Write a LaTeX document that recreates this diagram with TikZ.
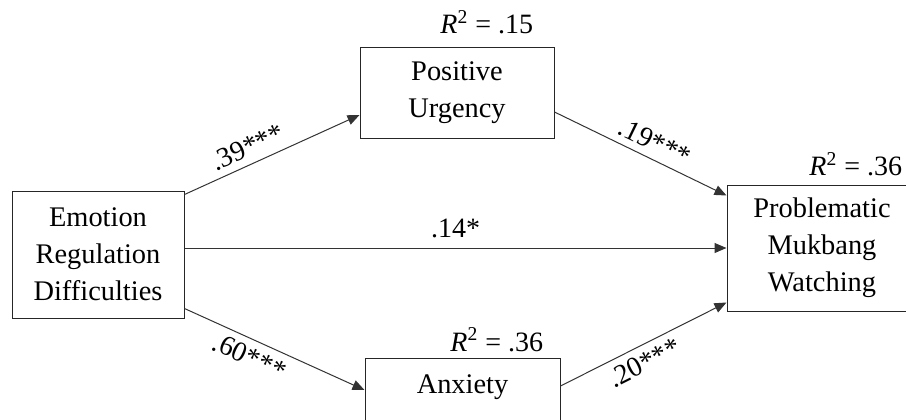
\documentclass[tikz,border=0pt]{standalone}
\usepackage{fontspec}
\setmainfont{Liberation Serif}
\usetikzlibrary{arrows.meta,positioning,calc}
\tikzset{
  var_box/.style={rectangle,
    draw=black!85,fill=white,line width=0.5pt,
    align=center,inner sep=0pt,
    font=\fontsize{14.2}{18.5}\selectfont},
  path_arr/.style={-{Triangle[length=6pt,width=5pt]},line width=0.5pt,draw=black!80},
  coef_lbl/.style={sloped,inner sep=3.5pt,
    font=\fontsize{14}{16}\selectfont},
  rsq_lbl/.style={inner sep=0pt,
    font=\fontsize{14}{16}\selectfont},
}
\newcommand{\rsq}[1]{\textit{R}\textsuperscript{2} = #1}

\begin{document}
\begin{tikzpicture}[x=0.5pt,y=-0.5pt]
  \useasboundingbox (0,0) rectangle (906,419);
  \clip (0,0) rectangle (906,419);
  \node (erd) [var_box,minimum width=86pt,minimum height=63.5pt] at (98,254.5) {Emotion\\Regulation\\Difficulties};
  \node (pu) [var_box,minimum width=97pt,minimum height=45.5pt] at (457,92.5) {Positive\\Urgency};
  \node (anx) [var_box,minimum width=97.5pt,minimum height=45.5pt,
    text depth=20pt,anchor=north] at (462.5,358) {Anxiety};
  \node (pmw) [var_box,minimum width=95pt,minimum height=63pt] at (822,248) {Problematic\\Mukbang\\Watching};
  % R^2 values
  \node (pu_r) [rsq_lbl,above left=6pt and 10.5pt of pu.north east] {\rsq{.15}};
  \node (anx_r) [rsq_lbl,above left=3pt and 8.5pt of anx.north east] {\rsq{.36}};
  \node (pmw_r) [rsq_lbl,above left=4pt and 7.5pt of pmw.north east] {\rsq{.36}};
  % paths
  \draw[path_arr] ([yshift=-2pt]erd.north east) -- node[coef_lbl,above,pos=0.4] {.39***} ([yshift=-11.25pt]pu.west);
  \draw[path_arr] ([yshift=5pt]erd.south east) -- node[coef_lbl,below,pos=0.4] {.60***} ([yshift=-16pt]anx.north west);
  \draw[path_arr] (erd.east |- pmw.west) -- node[coef_lbl,above,inner sep=5pt] {.14*} (pmw.west);
  \draw[path_arr] ([yshift=-9.75pt]pu.east) -- node[coef_lbl,above,pos=0.54] {.19***} ([yshift=-5.5pt]pmw.north west);
  \draw[path_arr] ([yshift=-14pt]anx.north east) -- node[coef_lbl,below,pos=0.46] {.20***} ([yshift=4.5pt]pmw.south west);
\end{tikzpicture}
\end{document}
